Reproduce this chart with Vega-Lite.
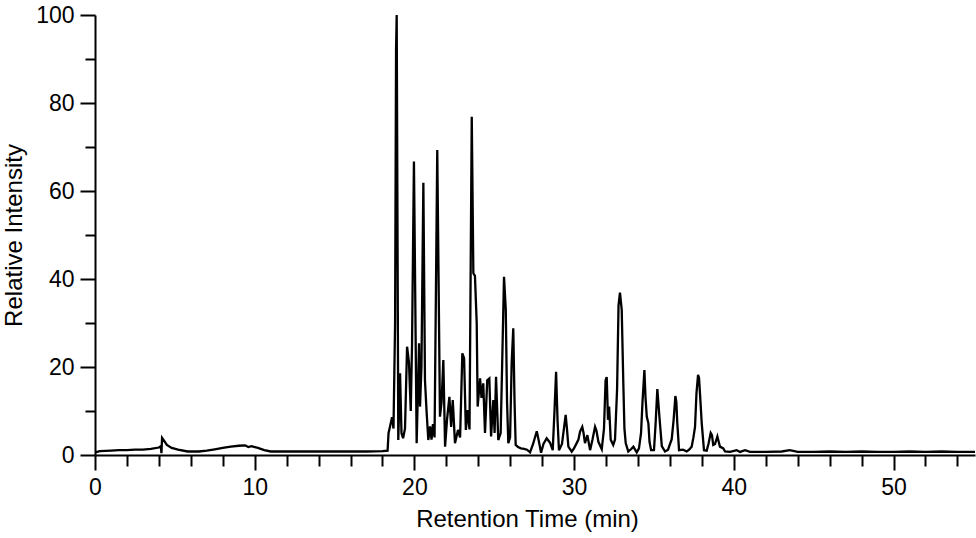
{
  "$schema": "https://vega.github.io/schema/vega-lite/v6.json",
  "width": 880,
  "height": 440,
  "autosize": {"type": "none"},
  "padding": {"left": 95, "top": 15, "right": 1, "bottom": 83},
  "background": "white",
  "config": {
    "view": {"stroke": null},
    "font": "Liberation Sans",
    "axis": {"grid": false, "domainColor": "black", "domainWidth": 2, "tickColor": "black", "tickWidth": 2, "labelColor": "black", "titleColor": "black", "labelFont": "Liberation Sans", "titleFont": "Liberation Sans", "labelFontSize": 23, "titleFontSize": 24, "titleFontWeight": "normal"}
  },
  "data": {"values": [
    {"t": 0, "i": 0.6}, {"t": 0.3, "i": 0.9}, {"t": 1.0, "i": 1.0}, {"t": 1.5, "i": 1.1}, {"t": 2.0, "i": 1.1}, {"t": 2.5, "i": 1.2}, {"t": 3.0, "i": 1.2}, {"t": 3.5, "i": 1.4}, {"t": 4.0, "i": 1.7}, {"t": 4.12, "i": 2.0}, {"t": 4.16, "i": 0.4}, {"t": 4.2, "i": 3.9}, {"t": 4.3, "i": 3.4}, {"t": 4.5, "i": 2.3}, {"t": 4.8, "i": 1.6}, {"t": 5.2, "i": 1.2}, {"t": 5.8, "i": 0.8}, {"t": 6.5, "i": 0.8}, {"t": 7.0, "i": 1.0}, {"t": 7.5, "i": 1.3}, {"t": 8.0, "i": 1.6}, {"t": 8.5, "i": 1.9}, {"t": 9.0, "i": 2.1}, {"t": 9.4, "i": 2.2}, {"t": 9.6, "i": 1.8}, {"t": 9.8, "i": 2.0}, {"t": 10.2, "i": 1.6}, {"t": 10.6, "i": 1.1}, {"t": 11.0, "i": 0.8}, {"t": 12.0, "i": 0.8}, {"t": 13.0, "i": 0.8}, {"t": 14.0, "i": 0.8}, {"t": 15.0, "i": 0.8}, {"t": 16.0, "i": 0.8}, {"t": 17.0, "i": 0.8}, {"t": 18.0, "i": 0.9}, {"t": 18.32, "i": 1.0},
    {"t": 18.38, "i": 5.0}, {"t": 18.47, "i": 6.4}, {"t": 18.6, "i": 8.6}, {"t": 18.69, "i": 6.0}, {"t": 18.79, "i": 30}, {"t": 18.85, "i": 92}, {"t": 18.89, "i": 100}, {"t": 18.99, "i": 3.4}, {"t": 19.1, "i": 18.6}, {"t": 19.19, "i": 5}, {"t": 19.29, "i": 3.8}, {"t": 19.41, "i": 6}, {"t": 19.54, "i": 24.6}, {"t": 19.66, "i": 21}, {"t": 19.77, "i": 10}, {"t": 19.85, "i": 25}, {"t": 19.97, "i": 66.7}, {"t": 20.14, "i": 2.7}, {"t": 20.29, "i": 25.4}, {"t": 20.35, "i": 11}, {"t": 20.44, "i": 20}, {"t": 20.56, "i": 61.9}, {"t": 20.66, "i": 17}, {"t": 20.76, "i": 10}, {"t": 20.87, "i": 3.4}, {"t": 20.98, "i": 6.5}, {"t": 21.07, "i": 3.5}, {"t": 21.16, "i": 7}, {"t": 21.26, "i": 4}, {"t": 21.43, "i": 69.3}, {"t": 21.6, "i": 8.7}, {"t": 21.7, "i": 12}, {"t": 21.81, "i": 21.6}, {"t": 21.92, "i": 1.9}, {"t": 22.04, "i": 8}, {"t": 22.19, "i": 13.2}, {"t": 22.3, "i": 6.4}, {"t": 22.4, "i": 12.5}, {"t": 22.54, "i": 2.7}, {"t": 22.73, "i": 5.7}, {"t": 22.86, "i": 4}, {"t": 23.0, "i": 23.1}, {"t": 23.11, "i": 22}, {"t": 23.22, "i": 5.7}, {"t": 23.34, "i": 10.2}, {"t": 23.45, "i": 5.8}, {"t": 23.59, "i": 76.9}, {"t": 23.69, "i": 41.3}, {"t": 23.79, "i": 40.7}, {"t": 23.9, "i": 30}, {"t": 23.96, "i": 11}, {"t": 24.11, "i": 17.4}, {"t": 24.2, "i": 13}, {"t": 24.31, "i": 16.3}, {"t": 24.42, "i": 5}, {"t": 24.56, "i": 17}, {"t": 24.69, "i": 17.4}, {"t": 24.8, "i": 4.2}, {"t": 24.94, "i": 12.5}, {"t": 25.02, "i": 5}, {"t": 25.11, "i": 17.8}, {"t": 25.25, "i": 3.4}, {"t": 25.4, "i": 5}, {"t": 25.49, "i": 20}, {"t": 25.61, "i": 40.5}, {"t": 25.72, "i": 33}, {"t": 25.8, "i": 12}, {"t": 25.88, "i": 2.7}, {"t": 25.99, "i": 4}, {"t": 26.09, "i": 21}, {"t": 26.19, "i": 28.8}, {"t": 26.27, "i": 12}, {"t": 26.34, "i": 2.3}, {"t": 26.49, "i": 1.8}, {"t": 26.67, "i": 1.5}, {"t": 26.86, "i": 1.4}, {"t": 27.05, "i": 1.2}, {"t": 27.24, "i": 0.6}, {"t": 27.43, "i": 2.5}, {"t": 27.66, "i": 5.4}, {"t": 27.77, "i": 3.5}, {"t": 27.93, "i": 0.5}, {"t": 28.08, "i": 2.5}, {"t": 28.28, "i": 3.8}, {"t": 28.49, "i": 2.8}, {"t": 28.66, "i": 1.1}, {"t": 28.77, "i": 10}, {"t": 28.87, "i": 18.9}, {"t": 28.96, "i": 8}, {"t": 29.05, "i": 1.1}, {"t": 29.24, "i": 2.5}, {"t": 29.47, "i": 9.1}, {"t": 29.55, "i": 6}, {"t": 29.64, "i": 1.9}, {"t": 29.85, "i": 0.75}, {"t": 29.99, "i": 1.5}, {"t": 30.16, "i": 2.7}, {"t": 30.27, "i": 3.5}, {"t": 30.37, "i": 5.3}, {"t": 30.51, "i": 6.4}, {"t": 30.59, "i": 5}, {"t": 30.68, "i": 2.7}, {"t": 30.83, "i": 4.5}, {"t": 31.0, "i": 1.1}, {"t": 31.15, "i": 3.5}, {"t": 31.31, "i": 6.4}, {"t": 31.4, "i": 5.5}, {"t": 31.52, "i": 3}, {"t": 31.73, "i": 1.3}, {"t": 31.87, "i": 6}, {"t": 31.97, "i": 17}, {"t": 32.04, "i": 17.7}, {"t": 32.12, "i": 8}, {"t": 32.19, "i": 11}, {"t": 32.29, "i": 3.5}, {"t": 32.45, "i": 2.3}, {"t": 32.56, "i": 3.5}, {"t": 32.69, "i": 15}, {"t": 32.78, "i": 34}, {"t": 32.87, "i": 36.9}, {"t": 32.98, "i": 33}, {"t": 33.08, "i": 16.3}, {"t": 33.15, "i": 6}, {"t": 33.23, "i": 2.7}, {"t": 33.39, "i": 0.8}, {"t": 33.56, "i": 1.3}, {"t": 33.71, "i": 1.9}, {"t": 33.92, "i": 0.6}, {"t": 34.06, "i": 1.5}, {"t": 34.19, "i": 5}, {"t": 34.28, "i": 12}, {"t": 34.4, "i": 19.3}, {"t": 34.47, "i": 13}, {"t": 34.55, "i": 8.7}, {"t": 34.65, "i": 7.2}, {"t": 34.72, "i": 3}, {"t": 34.82, "i": 1.1}, {"t": 35.0, "i": 1.1}, {"t": 35.1, "i": 7}, {"t": 35.21, "i": 15}, {"t": 35.34, "i": 8.7}, {"t": 35.49, "i": 2}, {"t": 35.69, "i": 0.8}, {"t": 35.88, "i": 1.2}, {"t": 36.11, "i": 3.6}, {"t": 36.23, "i": 8}, {"t": 36.34, "i": 13.4}, {"t": 36.4, "i": 12}, {"t": 36.46, "i": 7.2}, {"t": 36.57, "i": 1.1}, {"t": 36.82, "i": 1.2}, {"t": 37.05, "i": 0.8}, {"t": 37.2, "i": 1.2}, {"t": 37.36, "i": 1.9}, {"t": 37.47, "i": 4}, {"t": 37.57, "i": 6.4}, {"t": 37.66, "i": 14}, {"t": 37.76, "i": 18.2}, {"t": 37.82, "i": 17.5}, {"t": 37.88, "i": 14}, {"t": 37.99, "i": 7.2}, {"t": 38.13, "i": 1.1}, {"t": 38.3, "i": 1.0}, {"t": 38.41, "i": 2.5}, {"t": 38.55, "i": 5}, {"t": 38.63, "i": 4.5}, {"t": 38.71, "i": 2.3}, {"t": 38.82, "i": 2.5}, {"t": 38.97, "i": 4.2}, {"t": 39.04, "i": 3.2}, {"t": 39.13, "i": 1.9}, {"t": 39.34, "i": 1.5}, {"t": 39.45, "i": 0.8}, {"t": 39.76, "i": 0.7}, {"t": 40.18, "i": 1.1}, {"t": 40.39, "i": 0.7}, {"t": 40.7, "i": 1.1}, {"t": 41.01, "i": 0.7}, {"t": 42.0, "i": 0.7}, {"t": 43.0, "i": 0.8}, {"t": 43.5, "i": 1.1}, {"t": 44.0, "i": 0.7}, {"t": 45.0, "i": 0.7}, {"t": 46.0, "i": 0.8}, {"t": 47.0, "i": 0.7}, {"t": 48.0, "i": 0.8}, {"t": 49.0, "i": 0.7}, {"t": 50.0, "i": 0.7}, {"t": 51.0, "i": 0.8}, {"t": 52.0, "i": 0.7}, {"t": 53.0, "i": 0.8}, {"t": 54.0, "i": 0.7}, {"t": 55.1, "i": 0.7}
  ]},
  "mark": {"type": "line", "color": "black", "strokeWidth": 2.3, "clip": true},
  "encoding": {
    "x": {"field": "t", "type": "quantitative", "scale": {"domain": [0, 55.1], "nice": false, "zero": false},
      "axis": {"title": "Retention Time (min)", "values": [0,2,4,6,8,10,12,14,16,18,20,22,24,26,28,30,32,34,36,38,40,42,44,46,48,50,52,54],
        "labelExpr": "datum.value % 10 === 0 ? datum.label : ''", "tickSize": {"condition": {"test": "datum.value % 10 === 0", "value": 15}, "value": 11},
        "labelPadding": 6, "labelFlush": false, "labelOverlap": false, "titlePadding": 8, "titleX": 432, "titleAlign": "center"}},
    "y": {"field": "i", "type": "quantitative", "scale": {"domain": [0, 100], "nice": false},
      "axis": {"title": "Relative Intensity", "values": [0,10,20,30,40,50,60,70,80,90,100],
        "labelExpr": "datum.value % 20 === 0 ? datum.label : ''", "tickSize": {"condition": {"test": "datum.value % 20 === 0", "value": 15}, "value": 10},
        "labelPadding": 6, "labelFlush": false, "labelOverlap": false, "titlePadding": 9}}
  }
}
